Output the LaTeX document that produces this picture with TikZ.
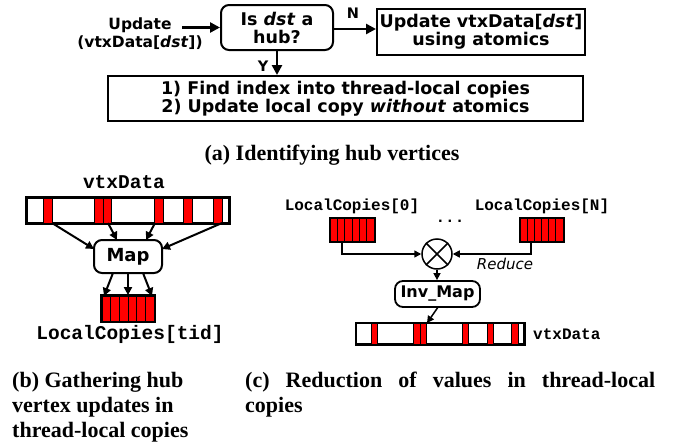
\documentclass[tikz,border=0pt]{standalone}
\usepackage{fontspec}
\setmainfont{Liberation Serif}
\newfontfamily\dvs{DejaVu Sans}
\newfontfamily\lmono{Liberation Mono}
\usetikzlibrary{arrows.meta,calc}
\begin{document}
\begin{tikzpicture}[x=1pt,y=-1pt,
  boxtxt/.style={font=\dvs\bfseries\fontsize{17.5}{18}\selectfont, align=center},
  sqbox/.style={draw, line width=2pt, inner sep=0pt, boxtxt},
  rndbox/.style={sqbox, rounded corners=8pt},
  arr/.style={line width=2.5pt, -{Triangle[length=10pt,width=10pt]}},
  arrb/.style={line width=2pt, -{Triangle[length=8pt,width=8pt]}},
  arrc/.style={line width=1.5pt, -{Triangle[length=7pt,width=7pt]}},
  redcell/.style={fill=red, draw=black, line width=0.9pt},
  barbox/.style={draw, line width=1.8pt, inner sep=0pt},
  monob/.style={font=\lmono\bfseries\fontsize{19.5}{22}\selectfont, inner sep=0pt},
  monoc/.style={font=\lmono\bfseries\fontsize{16}{18}\selectfont, inner sep=0pt},
  capt/.style={font=\bfseries\fontsize{22}{25}\selectfont, inner sep=0pt},
  lbl/.style={font=\dvs\bfseries\fontsize{14.5}{16}\selectfont, inner sep=0pt}
]
\useasboundingbox (0,0) rectangle (681,442);

% ---------------- (a) ----------------
\node[boxtxt, inner sep=0pt, font=\dvs\bfseries\fontsize{15.5}{18}\selectfont] (upd) at (140,34) {Update\\(vtxData[\textit{dst}])};
\node[rndbox, minimum width=112pt, minimum height=45pt] (hub) at (277,27.5) {Is \textit{dst} a\\hub?};
\node[sqbox, minimum width=208pt, minimum height=46pt] (atom) at (481,32) {Update vtxData[\textit{dst}]\\using atomics};
\node[sqbox, minimum width=475pt, minimum height=45pt, font=\dvs\bfseries\fontsize{17.5}{17.5}\selectfont] (loc) at (345.5,98.5) {1) Find index into thread-local copies\\2) Update local copy \textit{without} atomics};
\coordinate (ustart) at (182,27.5);
\draw[arr] (ustart) -- (hub.west);
\draw[arr] ($(hub.east)+(0,1.5)$) -- (atom.west |- {$(hub.east)+(0,1.5)$});
\draw[arr] (hub.south) -- (hub.south |- loc.north);
\node[lbl] (nlab) at (353,13) {N};
\node[lbl] (ylab) at (263,66) {Y};
\node[capt, anchor=base] (capa) at (332,160) {(a) Identifying hub vertices};

% ---------------- (b) ----------------
\node[monob] (vlabb) at (124,182) {vtxData};
\node[barbox, minimum width=202pt, minimum height=25pt] (vb) at (128,210.5) {};
\foreach \a/\b in {43/52, 94/103, 103/111, 154/163, 183/192, 213/222}
  \draw[redcell] (\a,198) rectangle (\b,223);
\draw[line width=1.8pt] (vb.north west) rectangle (vb.south east);
\node[rndbox, minimum width=68pt, minimum height=33pt, font=\dvs\bfseries\fontsize{18}{20}\selectfont] (map) at (128,256.5) {Map};
\coordinate (vb1) at (52,223);  \coordinate (mp1) at (94,249);
\coordinate (vb2) at (108,223); \coordinate (mp2) at (117,240);
\coordinate (vb3) at (155,223); \coordinate (mp3) at (146,240);
\coordinate (vb4) at (222,223); \coordinate (mp4) at (162,249);
\draw[arrb] (vb1) -- (mp1);
\draw[arrb] (vb2) -- (mp2);
\draw[arrb] (vb3) -- (mp3);
\draw[arrb] (vb4) -- (mp4);
\node[draw, line width=1.8pt, minimum width=52pt, minimum height=25pt, inner sep=0pt] (lcb) at (128,308.5) {};
\foreach \i in {0,...,5}
  \draw[redcell] ({102+\i*52/6},296) rectangle ({102+(\i+1)*52/6},321);
\draw[line width=1.8pt] (lcb.north west) rectangle (lcb.south east);
\coordinate (ms1) at (113,273); \coordinate (lt1) at (104,296);
\coordinate (ms3) at (143,273); \coordinate (lt3) at (152,296);
\draw[arrb] (ms1) -- (lt1);
\draw[arrb] (map.south) -- (map.south |- lcb.north);
\draw[arrb] (ms3) -- (lt3);
\node[monob] (lctid) at (130,334) {LocalCopies[tid]};

% ---------------- (c) ----------------
\node[monoc] (lc0lab) at (352,206) {LocalCopies[0]};
\node[monoc] (lcnlab) at (542,206) {LocalCopies[N]};
\node[monoc, anchor=base] (dots) at (450,222) {...};
\node[draw, line width=1.5pt, minimum width=44pt, minimum height=23pt, inner sep=0pt] (lc0) at (352,229.5) {};
\foreach \i in {0,...,5}
  \draw[redcell, line width=0.8pt] ({330+\i*44/6},218) rectangle ({330+(\i+1)*44/6},241);
\draw[line width=1.5pt] (lc0.north west) rectangle (lc0.south east);
\node[draw, line width=1.5pt, minimum width=43pt, minimum height=23pt, inner sep=0pt] (lcn) at (541.5,229.5) {};
\foreach \i in {0,...,5}
  \draw[redcell, line width=0.8pt] ({520+\i*43/6},218) rectangle ({520+(\i+1)*43/6},241);
\draw[line width=1.5pt] (lcn.north west) rectangle (lcn.south east);
\node[draw, circle, line width=1.5pt, minimum size=30pt, inner sep=0pt] (op) at (437,254) {};
\draw[line width=1.5pt] (op.north west) -- (op.south east) (op.north east) -- (op.south west);
\coordinate (c0) at (342,241);
\coordinate (cn) at (531,241);
\draw[arrc] (c0) |- (op.west);
\draw[arrc] (cn) |- (op.east);
\node[font=\dvs\itshape\fontsize{15}{18}\selectfont, inner sep=0pt] (red) at (505,264) {Reduce};
\node[rndbox, line width=1.8pt, minimum width=85pt, minimum height=26pt, font=\dvs\bfseries\fontsize{16}{18}\selectfont] (inv) at (437.5,294) {Inv\_Map};
\draw[arrc] (op.south) -- (op.south |- inv.north);
\node[barbox, line width=1.5pt, minimum width=168pt, minimum height=21pt] (vc) at (440,333.5) {};
\foreach \a/\b in {371/377, 413/420, 420/426, 462/468, 487/493, 511/518}
  \draw[redcell, line width=0.8pt] (\a,323) rectangle (\b,344);
\draw[line width=1.5pt] (vc.north west) rectangle (vc.south east);
\coordinate (vct) at (427,323);
\draw[arrc] (inv.south) -- (vct);
\node[monoc, anchor=west] (vlabc) at (533,334) {vtxData};

% ---------------- captions ----------------
\node[capt, anchor=base west] (capb1) at (12,387) {(b) Gathering hub};
\node[capt, anchor=base west] (capb2) at (12,412) {vertex updates in};
\node[capt, anchor=base west] (capb3) at (12,437) {thread-local copies};
\node[capt, anchor=base west] (capc1) at (245,387) {\makebox[410pt][s]{(c) Reduction of values in thread-local}};
\node[capt, anchor=base west] (capc2) at (245,412) {copies};
\end{tikzpicture}
\end{document}
